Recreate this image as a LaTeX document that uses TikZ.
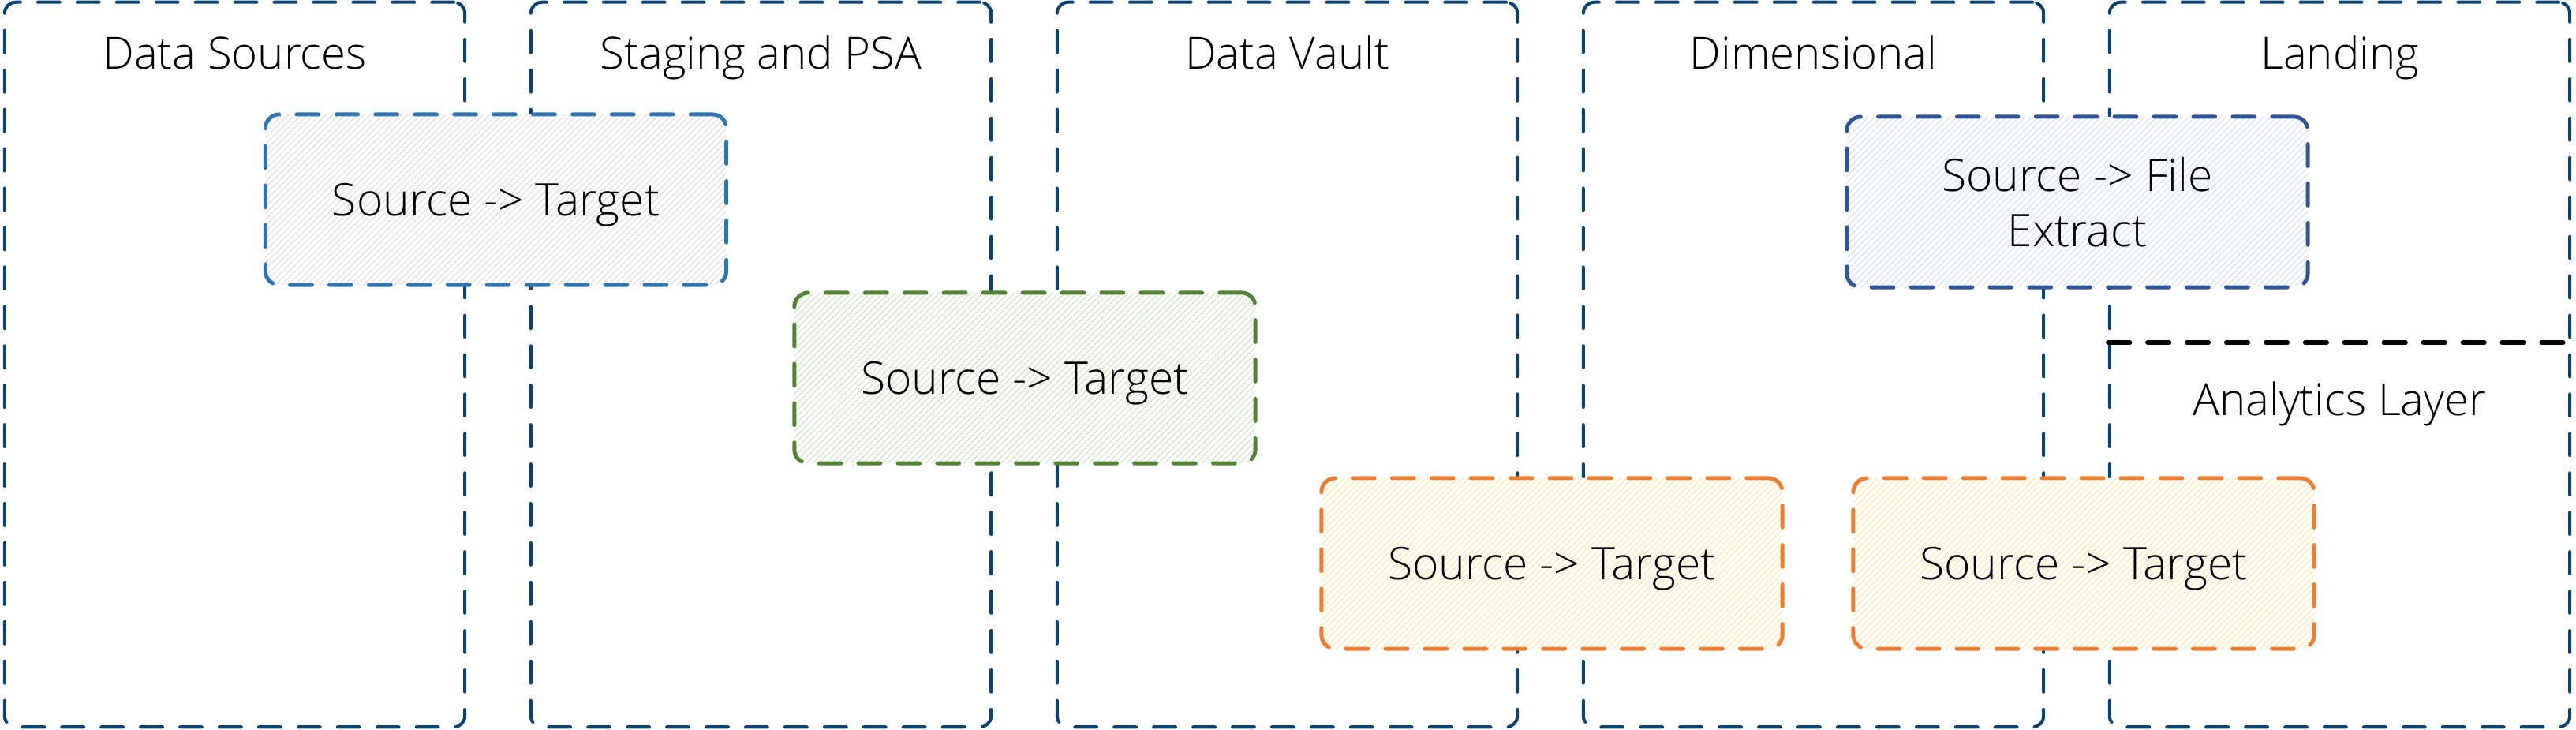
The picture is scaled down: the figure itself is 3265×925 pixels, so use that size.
\documentclass[tikz,border=0pt]{standalone}
\usepackage{fontspec}
\setmainfont{Open Sans}[UprightFont=* Light]
\usetikzlibrary{positioning,patterns.meta}

\definecolor{layerblue}{HTML}{0A4271}
\definecolor{jobblue}{HTML}{2E75B6}
\definecolor{jobnavy}{HTML}{2F5597}
\definecolor{jobgreen}{HTML}{548235}
\definecolor{joborange}{HTML}{ED7D31}
\definecolor{hatchgrey}{HTML}{E2E2E2}
\definecolor{hatchgreen}{HTML}{D3E8C6}
\definecolor{hatchyellow}{HTML}{FFEAB0}
\definecolor{hatchblue}{HTML}{DCE4F3}

\tikzset{
  layer/.style={draw=layerblue, line width=1.15pt, line cap=round, dash pattern=on 7.9pt off 6.3pt,
    rounded corners=4pt, minimum width=5.83cm, minimum height=9.18cm, inner sep=0pt},
  title/.style={anchor=base, font=\fontsize{16}{20}\selectfont},
  job/.style={line width=1.4pt, line cap=round, dash pattern=on 7.9pt off 6.3pt, rounded corners=5pt,
    minimum width=5.84cm, minimum height=2.16cm, align=center, text depth=0pt,
    font=\fontsize{16.2}{19.8}\selectfont},
  hatch/.style={preaction={fill=white},
    preaction={pattern={Lines[angle=45,distance=1.6pt,line width=0.4pt]}, pattern color=#1}},
}

\begin{document}
\begin{tikzpicture}[x=0.01cm,y=-0.01cm]
\useasboundingbox (0,0) rectangle (3265,925);
\foreach \n/\x/\t in {1/297.5/Data Sources,2/964.5/Staging and PSA,3/1631.5/Data Vault,4/2298.5/Dimensional,5/2965.5/Landing}{
  \node[layer] (col\n) at (\x,462) {};
  \node[title] (title\n) at (\x,88) {\t};
}
\coordinate (split) at (2965.5,434);
\draw[line width=1.5pt, line cap=round, dash pattern=on 7.9pt off 6.3pt] (col5.west |- split) -- (col5.east |- split);
\node[title] (analytics) at (2965.5,527) {Analytics Layer};

\node[job, draw=jobblue, hatch=hatchgrey] (stage) at (628.5,253) {Source -> Target};
\node[job, draw=jobgreen, hatch=hatchgreen] (vault) at (1299,479) {Source -> Target};
\node[job, draw=joborange, hatch=hatchyellow] (dim) at (1967,714) {Source -> Target};
\node[job, draw=jobnavy, hatch=hatchblue] (extract) at (2633,256) {Source -> File\\Extract};
\node[job, draw=joborange, hatch=hatchyellow] (analytic) at (2641,714) {Source -> Target};
\end{tikzpicture}
\end{document}
